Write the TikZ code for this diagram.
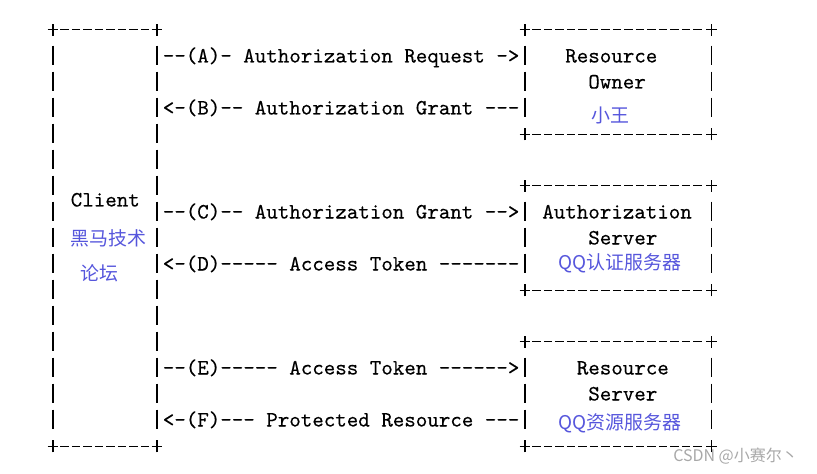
\documentclass[tikz,border=0pt]{standalone}
\usepackage{fontspec}
\usetikzlibrary{fit}
\newfontfamily\ascfont[Extension=.otf,Ligatures=TeXOff,FakeBold=0.25]{lmmono10-regular}
\newfontfamily\cjkfont{Noto Sans CJK SC}
\definecolor{zhblue}{HTML}{5656DC}
\definecolor{wmgray}{HTML}{A8A8A8}
\newcommand\abox[1]{%
 \draw[hedge] ([xshift=5.44pt]#1.north west) -- ([xshift=-5.44pt]#1.north east);
 \draw[hedge] ([xshift=5.44pt]#1.south west) -- ([xshift=-5.44pt]#1.south east);
 \draw[vedge] ([yshift=-12pt]#1.north west) -- ([yshift=12.75pt]#1.south west);
 \draw[vedge] ([yshift=-12pt]#1.north east) -- ([yshift=12.75pt]#1.south east);
 \draw[plus] ([xshift=-4pt]#1.north west) -- ([xshift=4pt]#1.north west) ([yshift=-4.5pt]#1.north west) -- ([yshift=4.5pt]#1.north west);
 \draw[plus] ([xshift=-4pt]#1.north east) -- ([xshift=4pt]#1.north east) ([yshift=-4.5pt]#1.north east) -- ([yshift=4.5pt]#1.north east);
 \draw[plus] ([xshift=-4pt]#1.south west) -- ([xshift=4pt]#1.south west) ([yshift=-4.5pt]#1.south west) -- ([yshift=4.5pt]#1.south west);
 \draw[plus] ([xshift=-4pt]#1.south east) -- ([xshift=4pt]#1.south east) ([yshift=-4.5pt]#1.south east) -- ([yshift=4.5pt]#1.south east);
}
\begin{document}
\begin{tikzpicture}[x=0.75pt,y=-0.75pt,
  asc/.style={font=\ascfont\fontsize{16.43}{16.43}\selectfont, inner sep=0, anchor=base west},
  zh/.style={font=\cjkfont\fontsize{14.2}{14.2}\selectfont, text=zhblue, inner sep=0, anchor=west},
  vedge/.style={line width=0.9pt, dash pattern=on 14.25pt off 5.25pt},
  hedge/.style={line width=0.9pt, dash pattern=on 6.375pt off 2.25pt},
  plus/.style={line width=0.9pt},
  boxarea/.style={inner sep=0, draw=none}]
\useasboundingbox (0,0) rectangle (817,474);
% boxes
\node[boxarea, fit={(53.3,30) (156.7,446)}] (client) {};
\node[boxarea, fit={(525.3,30) (711.3,134)}] (owner) {};
\node[boxarea, fit={(525.3,186) (711.3,290)}] (authsrv) {};
\node[boxarea, fit={(525.3,342) (711.3,446)}] (ressrv) {};
\abox{client}
\abox{owner}
\abox{authsrv}
\abox{ressrv}
% box labels
\node[asc] (clientlbl) at (70.55,206.5) {Client};
\node[zh] (clientzh1) at (70,238) {黑马技术};
\node[zh] (clientzh2) at (80,273) {论坛};
\node[asc] (ownerlbl1) at (565.05,62.5) {Resource};
\node[asc] (ownerlbl2) at (588.05,88.5) {Owner};
\node[zh] (ownerzh) at (591,115) {小王};
\node[asc] (authlbl1) at (542.05,218.5) {Authorization};
\node[asc] (authlbl2) at (588.05,244.5) {Server};
\node[zh] (authzh) at (558,263) {QQ认证服务器};
\node[asc] (reslbl1) at (576.55,374.5) {Resource};
\node[asc] (reslbl2) at (588.05,400.5) {Server};
\node[zh] (reszh) at (558,423) {QQ资源服务器};
% flows
\node[asc] (flowA) at (162.55,62.5) {--(A)- Authorization Request ->};
\node[asc] (flowB) at (162.55,114.5) {<-(B)-- Authorization Grant ---};
\node[asc] (flowC) at (162.55,218.5) {--(C)-- Authorization Grant -->};
\node[asc] (flowD) at (162.55,270.5) {<-(D)----- Access Token -------};
\node[asc] (flowE) at (162.55,374.5) {--(E)----- Access Token ------>};
\node[asc] (flowF) at (162.55,426.5) {<-(F)--- Protected Resource ---};
% watermark
\node[font=\cjkfont\fontsize{12}{12}\selectfont, text=wmgray, inner sep=0, anchor=west] (wm) at (673,456) {CSDN @小赛尔丶};
\end{tikzpicture}
\end{document}
